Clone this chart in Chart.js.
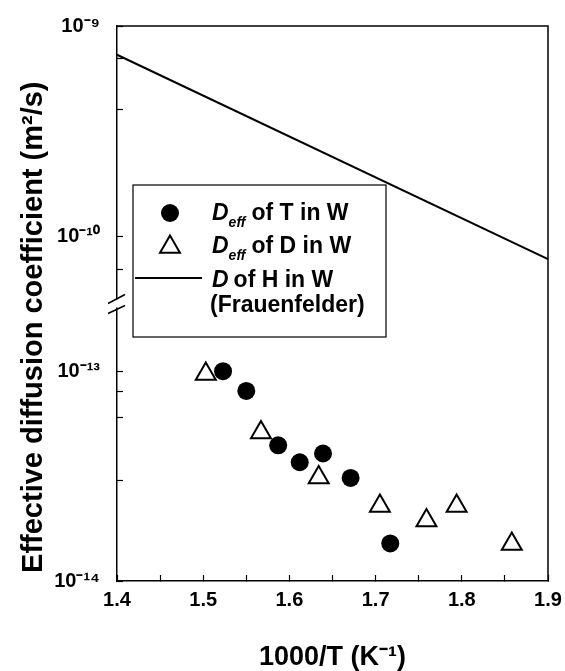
<!DOCTYPE html>
<html>
<head>
<meta charset="utf-8">
<script src="https://cdn.jsdelivr.net/npm/chart.js@4/dist/chart.umd.min.js"></script>
<style>
  body { margin: 0; background: #fff; }
  canvas { display: block; }
</style>
</head>
<body>
<canvas id="diffusion-chart" width="565" height="671"></canvas>
<script>
// Data
const tempT = [1.523, 1.550, 1.587, 1.612, 1.639, 1.671, 1.717];
const deffT = [1.0e-13, 8.05e-14, 4.43e-14, 3.68e-14, 4.05e-14, 3.10e-14, 1.51e-14];

const tempD = [1.503, 1.567, 1.634, 1.705, 1.759, 1.794, 1.858];
const deffD = [9.7e-14, 5.1e-14, 3.11e-14, 2.28e-14, 1.94e-14, 2.28e-14, 1.50e-14];

// Frauenfelder line, end points
const tempH = [1.4, 1.9];
const diffH = [7.3e-10, 7.8e-11];

// Axis ranges (broken y axis)
const xRange = [1.4, 1.9];
const yTopRange = [4.8e-11, 1e-9];
const yBotRange = [1e-14, 2.1e-13];

const SUP = { "-": "\u207B", "0": "\u2070", "1": "\u00B9", "2": "\u00B2", "3": "\u00B3",
    "4": "\u2074", "5": "\u2075", "6": "\u2076", "7": "\u2077", "8": "\u2078", "9": "\u2079" };
const sup = s => String(s).split("").map(c => SUP[c] || c).join("");

const FONT = '"Liberation Sans", Arial, Helvetica, sans-serif';

const toPoints = (xs, ys) => xs.map((x, i) => ({ x, y: ys[i] }));

const isDecade = v => {
    const e = Math.round(Math.log10(v));
    return Math.abs(v / Math.pow(10, e) - 1) < 1e-6;
};
const intMantissa = v => {
    const e = Math.floor(Math.log10(v) + 1e-9);
    const m = v / Math.pow(10, e);
    return Math.abs(m - Math.round(m)) < 1e-6;
};
const decadeLabel = v => isDecade(v) ? "10" + sup(Math.round(Math.log10(v))) : "";

// labels may hang over the edges, don't let them shrink the plot
const noEdgePadding = scale => {
    scale.paddingTop = scale.paddingBottom = 0;
    scale.paddingLeft = scale.paddingRight = 0;
};

// shared y scale bits
function logAxis(range, keep) {
    return {
        type: "logarithmic",
        position: "left",
        stack: "y",
        min: range[0],
        max: range[1],
        afterBuildTicks: scale => {
            scale.ticks = scale.ticks.filter(t => intMantissa(t.value) && keep(t.value));
        },
        afterFit: scale => { scale.width = 64; noEdgePadding(scale); },
        border: { color: "#000", width: 1.5 },
        grid: { drawOnChartArea: false, tickLength: -6, tickColor: "#000", tickWidth: 1.2 },
        ticks: {
            color: "#000",
            padding: 23,
            font: { family: FONT, size: 20, weight: "bold" },
            callback: v => decadeLabel(v)
        }
    };
}

// top & right frame lines + axis break marks
const framePlugin = {
    id: "frame",
    afterDraw(chart) {
        const { ctx, chartArea: a } = chart;
        ctx.save();
        ctx.strokeStyle = "#000";
        ctx.lineWidth = 1.5;
        ctx.beginPath();
        ctx.moveTo(a.left, a.top);
        ctx.lineTo(a.right, a.top);
        ctx.lineTo(a.right, a.bottom);
        ctx.stroke();

        // break on the y axis where the two log scales meet
        const yb = chart.scales.yTop.bottom;
        ctx.fillStyle = "#fff";
        ctx.fillRect(a.left - 2, yb - 4, 4, 8);
        ctx.lineWidth = 1.5;
        ctx.beginPath();
        ctx.moveTo(a.left - 9, yb);
        ctx.lineTo(a.left + 8, yb - 9);
        ctx.moveTo(a.left - 9, yb + 10);
        ctx.lineTo(a.left + 8, yb + 2);
        ctx.stroke();
        ctx.restore();
    }
};

// boxed legend with italic D and subscripts
const legendPlugin = {
    id: "legendBox",
    afterDraw(chart) {
        const { ctx, chartArea: a } = chart;
        const bx = a.left + 16, by = a.top + 159, bw = 253, bh = 152;
        ctx.save();
        ctx.fillStyle = "#fff";
        ctx.fillRect(bx, by, bw, bh);
        ctx.strokeStyle = "#000";
        ctx.lineWidth = 1.2;
        ctx.strokeRect(bx, by, bw, bh);

        const mx = bx + 37;
        const tx = bx + 79;
        const big = `bold 23px ${FONT}`;
        const ital = `italic bold 23px ${FONT}`;
        const small = `italic bold 14px ${FONT}`;
        ctx.fillStyle = "#000";
        ctx.textBaseline = "alphabetic";

        const runs = (x, y, parts) => {
            for (const p of parts) {
                ctx.font = p.font;
                ctx.fillText(p.text, x, y + (p.dy || 0));
                x += ctx.measureText(p.text).width + (p.gap || 0);
            }
        };

        // filled circle
        ctx.beginPath();
        ctx.arc(mx, by + 28, 9, 0, Math.PI * 2);
        ctx.fill();
        runs(tx, by + 35, [
            { text: "D", font: ital },
            { text: "eff", font: small, dy: 7, gap: 6 },
            { text: "of T in W", font: big }
        ]);

        // open triangle
        const r = 11.5, cy = by + 62;
        ctx.lineWidth = 2;
        ctx.beginPath();
        ctx.moveTo(mx, cy - r);
        ctx.lineTo(mx + r * Math.sin(Math.PI * 2 / 3), cy + r / 2);
        ctx.lineTo(mx - r * Math.sin(Math.PI * 2 / 3), cy + r / 2);
        ctx.closePath();
        ctx.stroke();
        runs(tx, by + 68, [
            { text: "D", font: ital },
            { text: "eff", font: small, dy: 7, gap: 6 },
            { text: "of D in W", font: big }
        ]);

        // line
        ctx.lineWidth = 2;
        ctx.beginPath();
        ctx.moveTo(bx + 2, by + 93);
        ctx.lineTo(bx + 69, by + 93);
        ctx.stroke();
        runs(tx, by + 102, [
            { text: "D", font: ital, gap: 5 },
            { text: "of H in W", font: big }
        ]);
        runs(tx - 2, by + 127, [{ text: "(Frauenfelder)", font: big }]);
        ctx.restore();
    }
};

const ctx = document.getElementById("diffusion-chart").getContext("2d");
const chart = new Chart(ctx, {
    type: "scatter",
    data: {
        datasets: [
            {
                label: "Deff of T in W",
                data: toPoints(tempT, deffT),
                yAxisID: "yBot",
                pointStyle: "circle",
                pointRadius: 9,
                pointBackgroundColor: "#000",
                pointBorderColor: "#000",
                pointBorderWidth: 0
            },
            {
                label: "Deff of D in W",
                data: toPoints(tempD, deffD),
                yAxisID: "yBot",
                pointStyle: "triangle",
                pointRadius: 11.5,
                pointBackgroundColor: "rgba(0,0,0,0)",
                pointBorderColor: "#000",
                pointBorderWidth: 2
            },
            {
                label: "D of H in W (Frauenfelder)",
                data: toPoints(tempH, diffH),
                yAxisID: "yTop",
                showLine: true,
                borderColor: "#000",
                borderWidth: 2,
                pointRadius: 0,
                clip: false
            }
        ]
    },
    options: {
        responsive: false,
        animation: false,
        layout: { padding: { left: 0, right: 17, top: 26, bottom: 0 } },
        plugins: {
            legend: { display: false },
            tooltip: { enabled: false }
        },
        scales: {
            x: {
                type: "linear",
                min: xRange[0],
                max: xRange[1],
                afterFit: scale => { scale.height = 90; noEdgePadding(scale); },
                border: { color: "#000", width: 1.5 },
                grid: { drawOnChartArea: false, tickLength: -6, tickColor: "#000", tickWidth: 1.2 },
                ticks: {
                    stepSize: 0.05,
                    autoSkip: false,
                    maxRotation: 0,
                    color: "#000",
                    padding: 13,
                    font: { family: FONT, size: 20, weight: "bold" },
                    callback: v => Math.round(v * 100) % 10 === 0 ? v.toFixed(1) : ""
                },
                title: {
                    display: true,
                    text: "1000/T (K" + sup("-1") + ")",
                    color: "#000",
                    padding: { top: 0, bottom: 0 },
                    font: { family: FONT, size: 27, weight: "bold", lineHeight: 1 }
                }
            },
            yBot: logAxis(yBotRange, v => v <= 1.01e-13),
            yTop: logAxis(yTopRange, v => v >= 6e-11),
            yTitle: {
                type: "linear",
                position: "left",
                weight: 1,
                afterFit: scale => { scale.width = 53; },
                border: { display: false },
                grid: { display: false, drawTicks: false },
                ticks: { display: false },
                title: {
                    display: true,
                    align: "start",
                    text: "\u00A0Effective diffusion coefficient (m" + sup("2") + "/s)",
                    color: "#000",
                    padding: { top: 19, bottom: 0 },
                    font: { family: FONT, size: 29, weight: "bold", lineHeight: 1 }
                }
            }
        }
    },
    plugins: [framePlugin, legendPlugin]
});
</script>
</body>
</html>
